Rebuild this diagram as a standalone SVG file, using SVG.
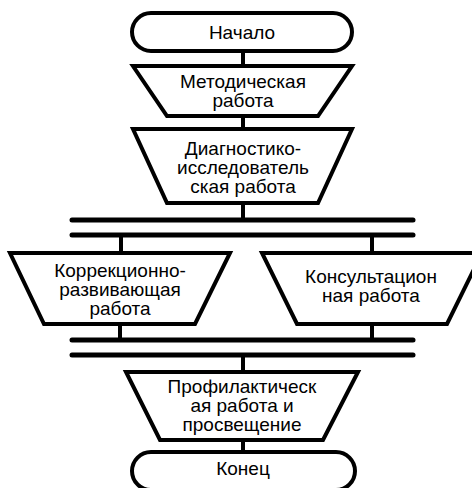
<svg xmlns="http://www.w3.org/2000/svg" width="472" height="488" viewBox="0 0 472 488">
<style>
.s{fill:#fff;stroke:#000;stroke-width:4;stroke-linejoin:miter}
.c{stroke:#000;stroke-width:4;fill:none}
.b{stroke:#000;stroke-width:5;stroke-linecap:round;fill:none}
text{font-family:"Liberation Sans",Arial,sans-serif;font-size:19px;fill:#000;text-anchor:middle}
</style>
<rect width="472" height="488" fill="#fff"/>
<g id="connectors">
<line class="c" x1="243" y1="51" x2="243" y2="66"/>
<line class="c" x1="243" y1="116" x2="243" y2="129"/>
<line class="c" x1="243" y1="203" x2="243" y2="220"/>
<line class="b" x1="72" y1="220" x2="413" y2="220"/>
<line class="b" x1="72" y1="235" x2="413" y2="235"/>
<line class="c" x1="121" y1="235" x2="121" y2="253"/>
<line class="c" x1="372" y1="235" x2="372" y2="253"/>
<line class="c" x1="120" y1="324" x2="120" y2="340"/>
<line class="c" x1="372" y1="324" x2="372" y2="340"/>
<line class="b" x1="72" y1="340" x2="413" y2="340"/>
<line class="b" x1="72" y1="355" x2="413" y2="355"/>
<line class="c" x1="243" y1="355" x2="243" y2="372"/>
<line class="c" x1="243" y1="440" x2="243" y2="452"/>
</g>
<g id="start">
<rect class="s" x="132" y="13" width="220" height="38" rx="19"/>
<text x="242" y="39">Начало</text>
</g>
<g id="method">
<polygon class="s" points="133,66 352,66 318,116 167,116"/>
<text x="243" y="88">Методическая</text>
<text x="243" y="107">работа</text>
</g>
<g id="diag">
<polygon class="s" points="133,129 352,129 318,203 167,203"/>
<text x="243" y="155">Диагностико-</text>
<text x="243" y="174">исследователь</text>
<text x="243" y="193">ская работа</text>
</g>
<g id="correction">
<polygon class="s" points="10,253 230,253 195,324 44,324"/>
<text x="120" y="277">Коррекционно-</text>
<text x="120" y="296">развивающая</text>
<text x="120" y="315">работа</text>
</g>
<g id="consult">
<polygon class="s" points="262,253 482,253 447,324 297,324"/>
<text x="371" y="283">Консультацион</text>
<text x="371" y="302">ная работа</text>
</g>
<g id="prevention">
<polygon class="s" points="126,372 358,372 323,440 160,440"/>
<text x="242" y="393">Профилактическ</text>
<text x="242" y="412">ая работа и</text>
<text x="242" y="431">просвещение</text>
</g>
<g id="end">
<rect class="s" x="132" y="452" width="223" height="38" rx="19"/>
<text x="243" y="475">Конец</text>
</g>
</svg>
